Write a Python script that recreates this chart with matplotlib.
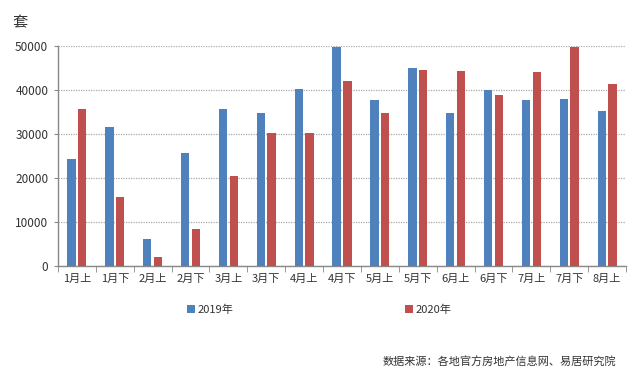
import numpy as np
import matplotlib
matplotlib.use('Agg')
import matplotlib.pyplot as plt

plt.rcParams['font.family'] = ['Noto Sans CJK SC', 'DejaVu Sans']

periods = ['1月上', '1月下', '2月上', '2月下', '3月上', '3月下', '4月上', '4月下',
           '5月上', '5月下', '6月上', '6月下', '7月上', '7月下', '8月上']
sales_2019 = [24400, 31600, 6060, 25800, 35600, 34800, 40150, 49700,
              37800, 45000, 34850, 39900, 37650, 38050, 35150]
sales_2020 = [35600, 15750, 2120, 8480, 20450, 30150, 30150, 42050,
              34850, 44550, 44400, 38800, 44100, 49750, 41350]

blue = '#4F81BD'
red = '#C0504D'

fig = plt.figure(figsize=(6.4, 3.87), dpi=100)
ax = fig.add_axes([0.0906, 0.3127, 0.8875, 0.5683])

x = np.arange(len(periods))
w = 0.22
ax.bar(x - 0.142, sales_2019, w, color=blue, label='2019年', zorder=3)
ax.bar(x + 0.142, sales_2020, w, color=red, label='2020年', zorder=3)

ax.set_xlim(-0.5, len(periods) - 0.5)
ax.set_ylim(0, 50000)
ax.set_yticks(range(0, 50001, 10000))
ax.set_yticklabels([str(v) for v in range(0, 50001, 10000)], fontsize=8.5, color='#333333')

# category labels centred, tick marks between categories
ax.set_xticks(x)
ax.set_xticklabels(periods, fontsize=8, color='#333333')
ax.tick_params(axis='x', length=0, pad=6)
ax.set_xticks(np.arange(-0.5, len(periods), 1), minor=True)
ax.tick_params(axis='x', which='minor', length=4, color='#888888', direction='out')
ax.tick_params(axis='y', length=3, color='#888888', pad=4)

ax.yaxis.grid(True, linestyle=(0, (1, 1)), color='#aaaaaa', linewidth=0.9, zorder=0)
for s in ['top', 'right']:
    ax.spines[s].set_visible(False)
for s in ['left', 'bottom']:
    ax.spines[s].set_color('#888888')
    ax.spines[s].set_linewidth(1.0)

fig.text(0.02, 0.94, '套', fontsize=11, color='#333333', va='center')

fig.legend(loc='center', bbox_to_anchor=(0.499, 0.199), ncol=2, frameon=False,
           fontsize=8, handlelength=0.7, handleheight=0.7, handletextpad=0.2,
           columnspacing=15.5, labelcolor='#333333')

fig.text(0.963, 0.065, '数据来源：各地官方房地产信息网、易居研究院', fontsize=8,
         color='#333333', ha='right', va='center')

fig.savefig('out.png', dpi=100)
